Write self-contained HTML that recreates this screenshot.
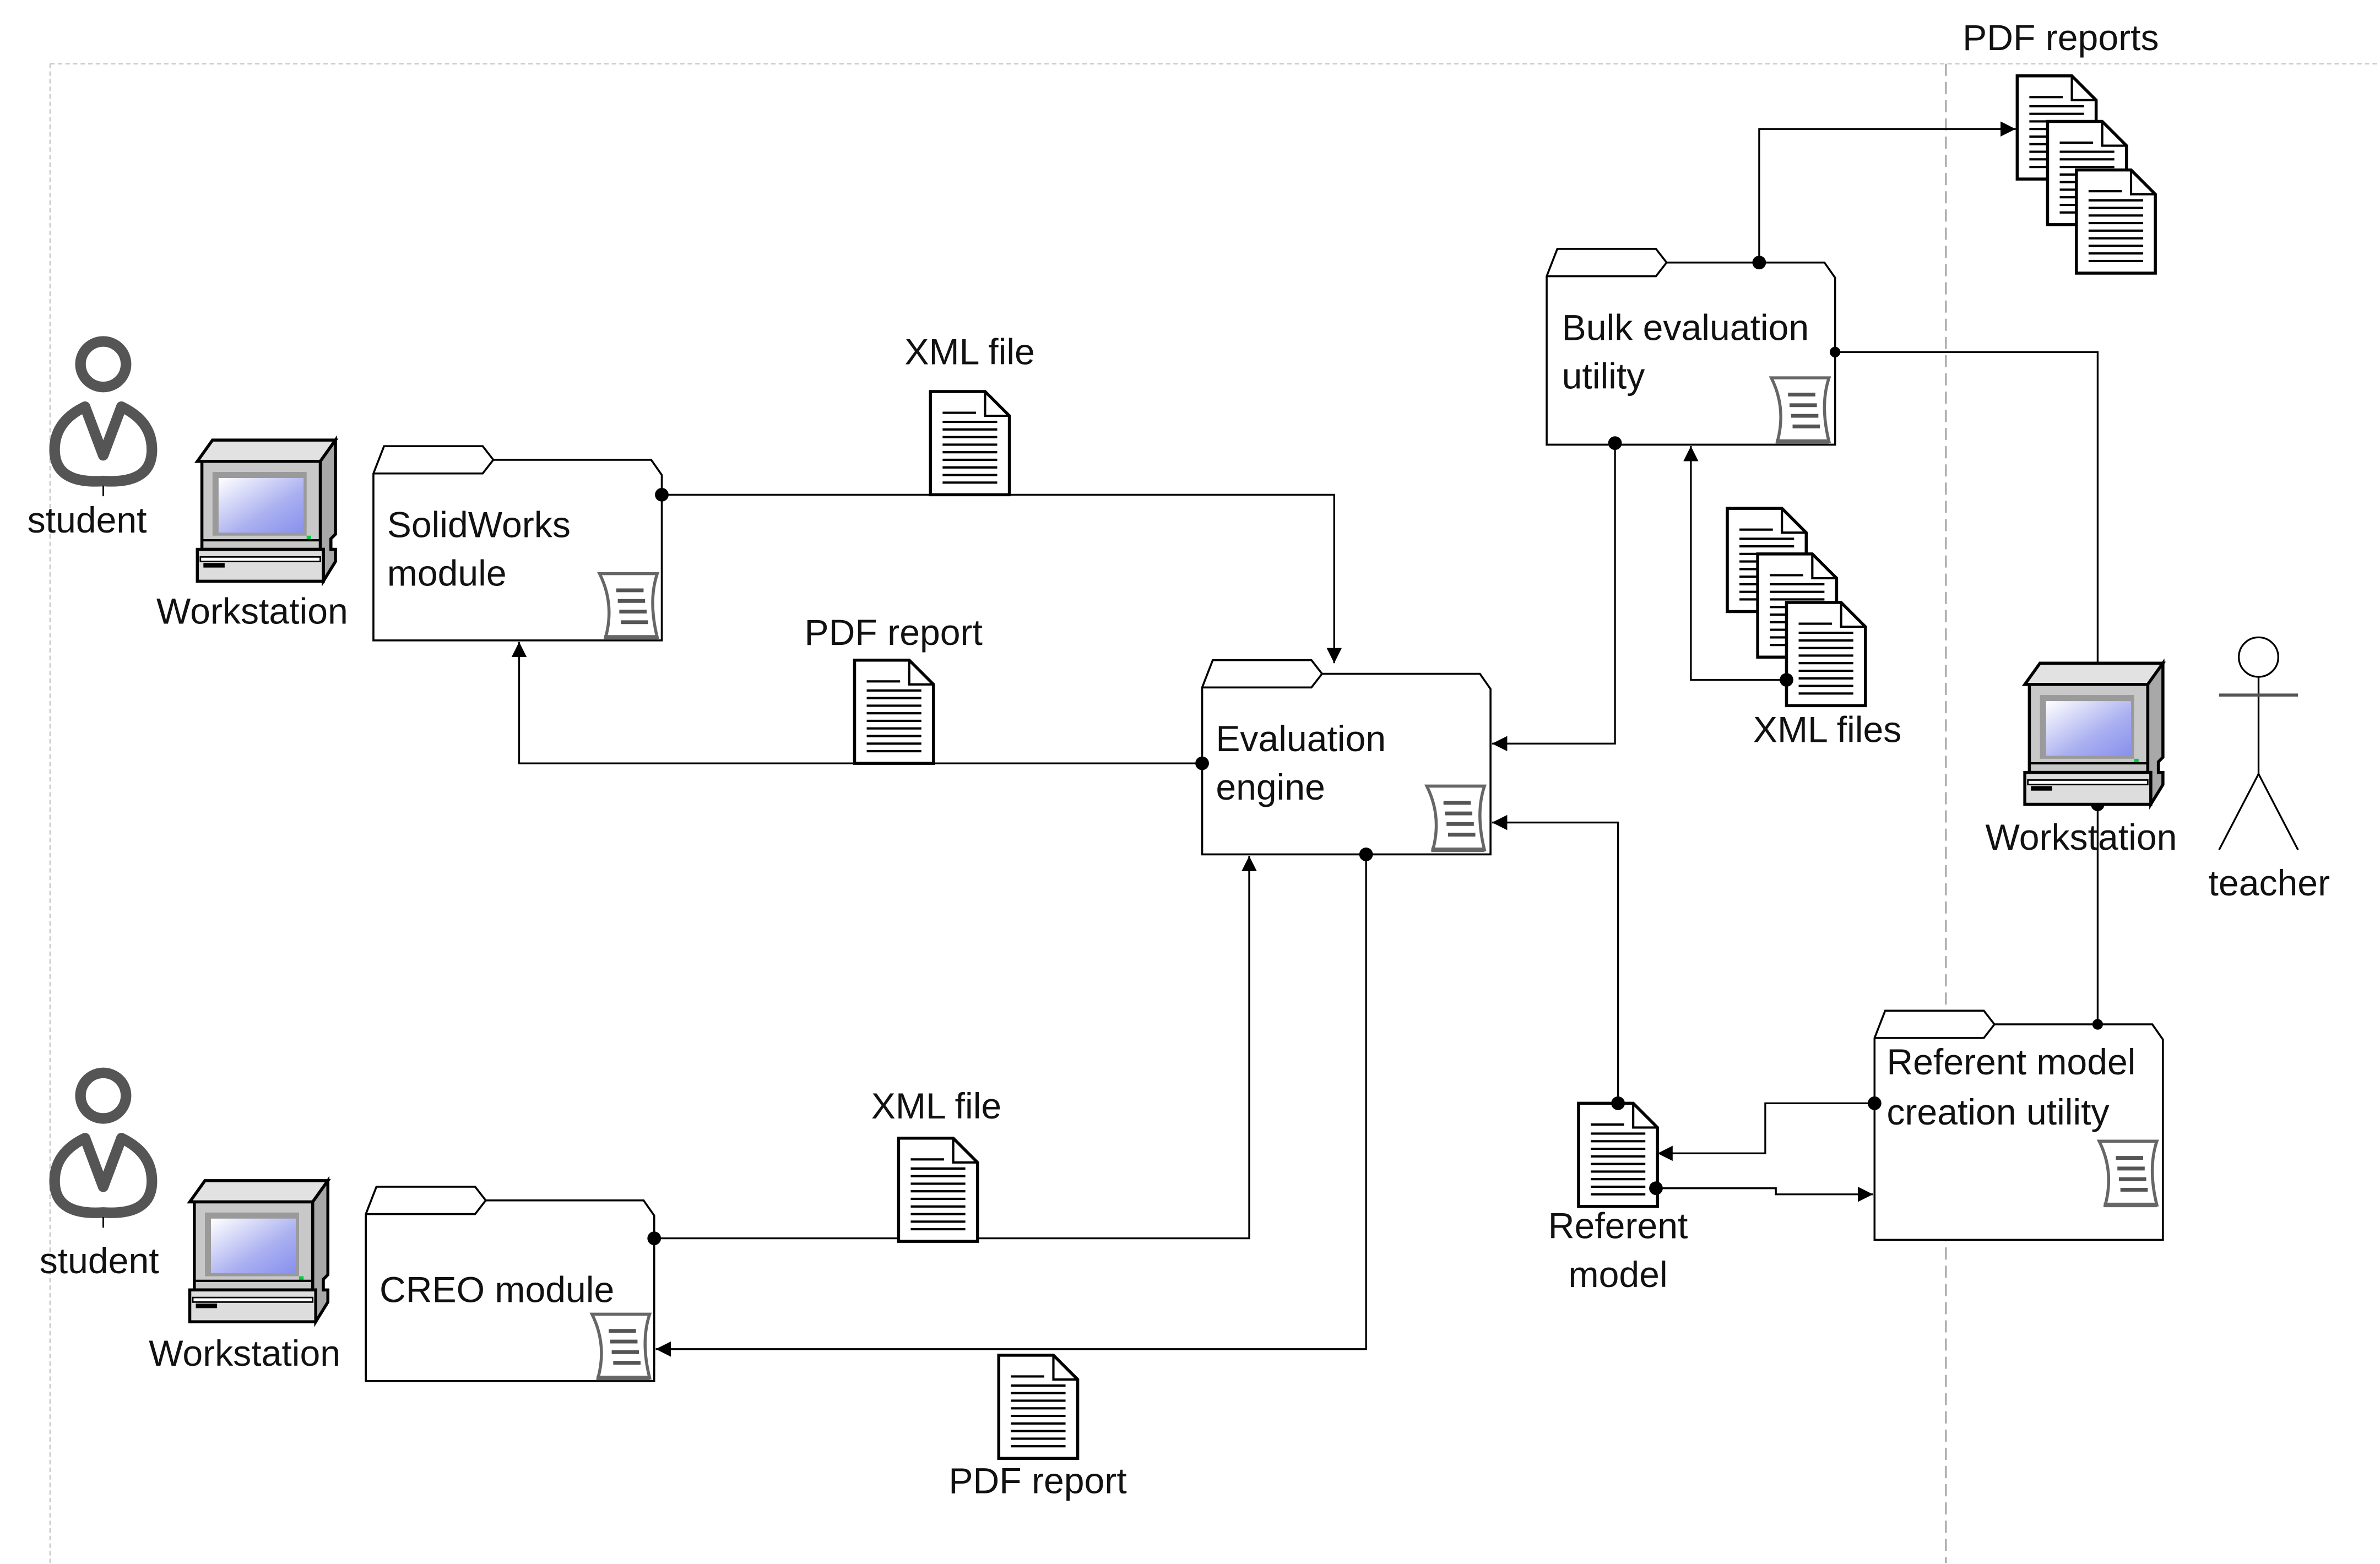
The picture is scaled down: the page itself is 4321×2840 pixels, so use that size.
<!DOCTYPE html>
<html><head><meta charset="utf-8"><style>
html,body{margin:0;padding:0;background:#fff;}
svg{display:block;}
text{font-family:"Liberation Sans",sans-serif;font-size:24px;fill:#111;}
</style></head><body>
<svg width="4321" height="2840" viewBox="0 0 1568 1030.6" xmlns="http://www.w3.org/2000/svg">
<defs>
<linearGradient id="scr" x1="0" y1="0" x2="1" y2="1">
<stop offset="0" stop-color="#ffffff"/><stop offset="0.6" stop-color="#aab0f0"/><stop offset="1" stop-color="#8890ee"/></linearGradient>
<marker id="ar" viewBox="0 0 10 10" refX="10" refY="5" markerWidth="10" markerHeight="10" markerUnits="userSpaceOnUse" orient="auto"><path d="M0,0 L10,5 L0,10 Z" fill="#000"/></marker>
<g id="ws">
<polygon points="0,14 10,0 91,0 81,14" fill="#e2e2e2" stroke="#000" stroke-width="2"/>
<polygon points="81,14 91,0 91,62 88,65 88,72 91,72 91,80 83,93 83,72 81,72" fill="#a8a8a8" stroke="#000" stroke-width="2"/>
<rect x="3" y="14" width="78" height="58" fill="#c8c8c8" stroke="#000" stroke-width="2"/>
<rect x="10" y="21" width="62" height="42" fill="#9a9a9a"/>
<rect x="14" y="25" width="56" height="36" fill="url(#scr)"/>
<rect x="72" y="63" width="3" height="3" fill="#0c4"/>
<line x1="3" y1="66" x2="81" y2="66" stroke="#000" stroke-width="1.5"/>
<rect x="0" y="72" width="83" height="21" fill="#ddd" stroke="#000" stroke-width="2"/>
<rect x="2" y="77" width="79" height="3" fill="#fff" stroke="#000" stroke-width="1"/>
<rect x="4" y="81" width="14" height="3" fill="#000"/>
</g>
<g id="doc">
<path d="M0,0 L36,0 L52,16 L52,68 L0,68 Z" fill="#fff" stroke="#000" stroke-width="2"/>
<path d="M36,0 L36,16 L52,16" fill="none" stroke="#000" stroke-width="1.5"/>
<g stroke="#000" stroke-width="1.5">
<line x1="8" y1="14" x2="30" y2="14"/><line x1="8" y1="20" x2="44" y2="20"/><line x1="8" y1="25" x2="44" y2="25"/>
<line x1="8" y1="30" x2="44" y2="30"/><line x1="8" y1="35" x2="44" y2="35"/><line x1="8" y1="40" x2="44" y2="40"/>
<line x1="8" y1="45" x2="44" y2="45"/><line x1="8" y1="50" x2="44" y2="50"/><line x1="8" y1="55" x2="44" y2="55"/><line x1="8" y1="60" x2="44" y2="60"/>
</g></g>
<g id="scroll">
<path d="M2,2 L40,2 Q34,20 40,44 L6,44 Q12,22 2,2 Z" fill="#fff" stroke="#666" stroke-width="2"/>
<line x1="5" y1="44" x2="40" y2="44" stroke="#666" stroke-width="3"/>
<g stroke="#555" stroke-width="2.5"><line x1="13" y1="13" x2="31" y2="13"/><line x1="14" y1="20" x2="32" y2="20"/><line x1="15" y1="27" x2="33" y2="27"/><line x1="16" y1="34" x2="34" y2="34"/></g>
</g>
<g id="stud">
<g fill="none" stroke="#555" stroke-width="7" stroke-linejoin="round">
<circle cx="0" cy="0" r="15"/>
<path d="M-12,28 Q-33,38 -32,58 Q-31,79 0,77 Q31,79 32,58 Q33,38 12,28 L0,60 Z"/>
</g>
<line x1="0" y1="80" x2="0" y2="87" stroke="#000" stroke-width="1"/>
</g>
</defs>

<line x1="33" y1="42" x2="1568" y2="42" stroke="#ccc" stroke-width="1" stroke-dasharray="3,2"/>
<line x1="33" y1="42" x2="33" y2="1030" stroke="#ccc" stroke-width="1" stroke-dasharray="3,2"/>
<line x1="1282" y1="42" x2="1282" y2="1030" stroke="#aaa" stroke-width="1.2" stroke-dasharray="8,4"/>

<g fill="#fff" stroke="#000" stroke-width="1.3">
<path d="M246,312 L253,294 L318,294 L325,303 L429,303 L436,313 L436,422 L246,422 Z"/>
<path d="M246,312 L318,312 L325,303" fill="none"/>
<path d="M792,453 L799,435 L864,435 L871,444 L975,444 L982,454 L982,563 L792,563 Z"/>
<path d="M792,453 L864,453 L871,444" fill="none"/>
<path d="M1019,182 L1026,164 L1091,164 L1098,173 L1202,173 L1209,183 L1209,293 L1019,293 Z"/>
<path d="M1019,182 L1091,182 L1098,173" fill="none"/>
<path d="M241,800 L248,782 L313,782 L320,791 L424,791 L431,801 L431,910 L241,910 Z"/>
<path d="M241,800 L313,800 L320,791" fill="none"/>
<path d="M1235,684 L1242,666 L1307,666 L1314,675 L1418,675 L1425,685 L1425,817 L1235,817 Z"/>
<path d="M1235,684 L1307,684 L1314,675" fill="none"/>
</g>
<use href="#scroll" x="393" y="376"/>
<use href="#scroll" x="938" y="516"/>
<use href="#scroll" x="1165" y="247"/>
<use href="#scroll" x="388" y="864"/>
<use href="#scroll" x="1381" y="750"/>

<text x="255" y="354">SolidWorks</text><text x="255" y="386">module</text>
<text x="801" y="495">Evaluation</text><text x="801" y="527">engine</text>
<text x="1029" y="224">Bulk evaluation</text><text x="1029" y="256">utility</text>
<text x="250" y="858">CREO module</text>
<text x="1243" y="708">Referent model</text><text x="1243" y="741">creation utility</text>

<g fill="none" stroke="#000" stroke-width="1.2">
<path d="M436,326 L879,326 L879,437" marker-end="url(#ar)"/>
<path d="M792,503 L342,503 L342,423" marker-end="url(#ar)"/>
<path d="M431,816 L823,816 L823,564" marker-end="url(#ar)"/>
<path d="M900,563 L900,889 L432,889" marker-end="url(#ar)"/>
<path d="M1064,292 L1064,490 L983,490" marker-end="url(#ar)"/>
<path d="M1177,448 L1114,448 L1114,294" marker-end="url(#ar)"/>
<path d="M1159,173 L1159,85 L1328,85" marker-end="url(#ar)"/>
<path d="M1209,232 L1382,232 L1382,444"/>
<path d="M1382,530 L1382,675"/>
<path d="M1066,727 L1066,542 L983,542" marker-end="url(#ar)"/>
<path d="M1235,727 L1163,727 L1163,760 L1092,760" marker-end="url(#ar)"/>
<path d="M1091,783 L1170,783 L1170,787 L1234,787" marker-end="url(#ar)"/>
</g>

<use href="#doc" x="613" y="258"/>
<use href="#doc" x="563" y="435"/>
<use href="#doc" x="592" y="750"/>
<use href="#doc" x="658" y="893"/>
<use href="#doc" x="1040" y="727"/>
<use href="#doc" x="1138" y="335"/>
<use href="#doc" x="1158" y="365"/>
<use href="#doc" x="1177" y="397"/>
<use href="#doc" x="1329" y="50"/>
<use href="#doc" x="1349" y="80"/>
<use href="#doc" x="1368" y="112"/>

<g fill="#000">
<circle cx="436" cy="326" r="4.5"/><circle cx="792" cy="503" r="4.5"/><circle cx="431" cy="816" r="4.5"/>
<circle cx="900" cy="563" r="4.5"/><circle cx="1064" cy="292" r="4.5"/><circle cx="1177" cy="448" r="4.5"/>
<circle cx="1159" cy="173" r="4.5"/><circle cx="1209" cy="232" r="3.5"/><circle cx="1382" cy="444" r="4.5"/>
<circle cx="1382" cy="530" r="4.5"/><circle cx="1382" cy="675" r="3.5"/><circle cx="1066" cy="727" r="4.5"/>
<circle cx="1235" cy="727" r="4.5"/><circle cx="1091" cy="783" r="4.5"/>
</g>

<use href="#ws" x="130" y="290"/>
<use href="#ws" x="125" y="778"/>
<use href="#ws" x="1334" y="437"/>
<use href="#stud" x="68" y="240"/>
<use href="#stud" x="68" y="722"/>

<g fill="none" stroke="#000" stroke-width="1.2">
<ellipse cx="1488" cy="433" rx="13" ry="13"/>
<line x1="1488" y1="446" x2="1488" y2="510"/>
<line x1="1462" y1="458" x2="1514" y2="458" stroke="#555" stroke-width="2"/>
<path d="M1462,560 L1488,510 L1514,560"/>
</g>

<text x="18" y="351">student</text>
<text x="103" y="411">Workstation</text>
<text x="26" y="839">student</text>
<text x="98" y="900">Workstation</text>
<text x="1308" y="560">Workstation</text>
<text x="1455" y="590">teacher</text>
<text x="596" y="240">XML file</text>
<text x="530" y="425">PDF report</text>
<text x="574" y="737">XML file</text>
<text x="625" y="984">PDF report</text>
<text x="1155" y="489">XML files</text>
<text x="1293" y="33">PDF reports</text>
<text x="1066" y="816" text-anchor="middle">Referent</text>
<text x="1066" y="848" text-anchor="middle">model</text>
</svg>
</body></html>
